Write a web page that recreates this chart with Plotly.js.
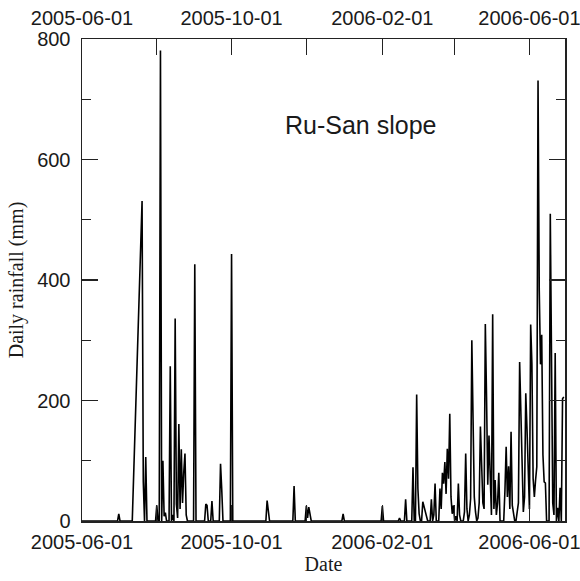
<!DOCTYPE html>
<html>
<head>
<meta charset="utf-8">
<script src="https://cdn.plot.ly/plotly-3.0.1.min.js"></script>
<style>html,body{margin:0;padding:0;background:#fff;}#chart{width:580px;height:581px;}</style>
</head>
<body>
<div id="chart"></div>
<script>
// Daily rainfall, Ru-San slope (mm)
const dates = [
  "2005-06-01","2005-06-30","2005-07-01","2005-07-02","2005-07-12","2005-07-20","2005-07-21","2005-07-22","2005-07-23","2005-07-24",
  "2005-07-31","2005-08-01","2005-08-02","2005-08-03","2005-08-04","2005-08-05","2005-08-06","2005-08-07","2005-08-08","2005-08-09",
  "2005-08-11","2005-08-12","2005-08-13","2005-08-14","2005-08-15","2005-08-16","2005-08-17","2005-08-18","2005-08-19","2005-08-20",
  "2005-08-21","2005-08-22","2005-08-23","2005-08-24","2005-08-25","2005-08-26","2005-08-31","2005-09-01","2005-09-02","2005-09-09",
  "2005-09-10","2005-09-11","2005-09-12","2005-09-14","2005-09-15","2005-09-16","2005-09-21","2005-09-22","2005-09-23","2005-09-24",
  "2005-09-30","2005-10-01","2005-10-02","2005-10-29","2005-10-30","2005-10-31","2005-11-01","2005-11-20","2005-11-21","2005-11-22",
  "2005-11-30","2005-12-01","2005-12-02","2005-12-03","2005-12-04","2005-12-05","2005-12-30","2005-12-31","2006-01-01","2006-01-31",
  "2006-02-01","2006-02-02","2006-02-14","2006-02-15","2006-02-16","2006-02-19","2006-02-20","2006-02-21","2006-02-25","2006-02-26",
  "2006-02-27","2006-02-28","2006-03-01","2006-03-02","2006-03-03","2006-03-04","2006-03-05","2006-03-06","2006-03-07","2006-03-08",
  "2006-03-09","2006-03-10","2006-03-12","2006-03-13","2006-03-14","2006-03-15","2006-03-16","2006-03-17","2006-03-19","2006-03-20",
  "2006-03-21","2006-03-22","2006-03-23","2006-03-24","2006-03-25","2006-03-26","2006-03-27","2006-03-28","2006-03-29","2006-03-30",
  "2006-03-31","2006-04-01","2006-04-02","2006-04-03","2006-04-04","2006-04-05","2006-04-06","2006-04-08","2006-04-09","2006-04-10",
  "2006-04-11","2006-04-12","2006-04-13","2006-04-14","2006-04-15","2006-04-16","2006-04-17","2006-04-18","2006-04-19","2006-04-20",
  "2006-04-21","2006-04-22","2006-04-23","2006-04-24","2006-04-25","2006-04-26","2006-04-27","2006-04-28","2006-04-29","2006-04-30",
  "2006-05-01","2006-05-02","2006-05-03","2006-05-04","2006-05-05","2006-05-06","2006-05-07","2006-05-08","2006-05-11","2006-05-12",
  "2006-05-13","2006-05-14","2006-05-15","2006-05-16","2006-05-17","2006-05-18","2006-05-19","2006-05-20","2006-05-21","2006-05-22",
  "2006-05-23","2006-05-24","2006-05-25","2006-05-26","2006-05-27","2006-05-28","2006-05-29","2006-05-30","2006-05-31","2006-06-01",
  "2006-06-02","2006-06-03","2006-06-04","2006-06-05","2006-06-06","2006-06-07","2006-06-08","2006-06-09","2006-06-10","2006-06-11",
  "2006-06-12","2006-06-13","2006-06-14","2006-06-15","2006-06-16","2006-06-17","2006-06-18","2006-06-19","2006-06-20","2006-06-21",
  "2006-06-22","2006-06-23","2006-06-24","2006-06-25","2006-06-26","2006-06-27","2006-06-28","2006-06-29"
];
const rainfall = [
  0,0,12,0,0,531,65,0,106,0,
  0,26,0,0,781,0,100,8,14,0,
  0,257,0,10,0,336,28,5,161,20,
  119,30,81,112,10,0,0,426,0,0,
  28,26,0,0,33,0,0,95,52,0,
  0,443,0,0,34,13,0,0,58,0,
  0,25,5,23,13,0,0,12,0,0,
  25,0,0,5,0,0,36,0,0,89,
  0,0,210,54,12,0,0,32,24,15,
  7,0,0,36,0,10,62,0,0,54,
  20,80,62,98,45,120,70,178,40,12,
  26,0,8,0,62,10,0,0,15,112,
  20,0,10,37,300,123,40,15,0,5,
  30,157,95,30,20,327,206,60,142,48,
  10,343,20,68,10,30,80,0,0,50,
  123,40,91,20,148,26,10,0,0,20,
  30,264,179,59,15,40,212,153,79,20,
  326,261,70,40,68,90,731,383,260,309,
  110,65,63,0,0,0,510,255,30,10,
  279,0,22,0,55,0,203,206
];
const xRange = ["2005-06-01", "2006-06-30"];
const yTicks = [0, 200, 400, 600, 800];
const panelLabel = "Ru-San slope";

const tickFont = {family: "Liberation Sans, Arial, sans-serif", size: 20, color: "#1a1a1a"};
const titleFont = {family: "Liberation Serif, Times New Roman, serif", size: 20, color: "#1a1a1a"};

const line = {
  x: dates, y: rainfall, type: "scatter", mode: "lines",
  line: {color: "#000", width: 1.6}, hoverinfo: "x+y", showlegend: false
};
const topAxisCarrier = {
  x: dates, y: rainfall, type: "scatter", mode: "lines", xaxis: "x2",
  line: {color: "rgba(0,0,0,0)", width: 0}, hoverinfo: "skip", showlegend: false
};

const layout = {
  width: 580, height: 581,
  margin: {l: 82, r: 15, t: 39, b: 60},
  paper_bgcolor: "#fff", plot_bgcolor: "#fff",
  showlegend: false,
  xaxis: {
    type: "date", range: xRange,
    tick0: "2005-06-01", dtick: "M4", tickformat: "%Y-%m-%d",
    ticks: "inside", ticklen: 16, tickwidth: 1.4, tickcolor: "#222",
    minor: {dtick: "M2", tick0: "2005-06-01", ticks: "inside", ticklen: 16, tickwidth: 1.4, tickcolor: "#222", showgrid: false},
    showline: true, linecolor: "#222", linewidth: 1.5, mirror: "ticks",
    showgrid: false, zeroline: false, ticklabeloverflow: "allow",
    tickfont: tickFont, ticklabelstandoff: 2,
    title: {text: "Date", font: titleFont, standoff: 5}
  },
  xaxis2: {
    type: "date", overlaying: "x", side: "top", matches: "x", range: xRange,
    tick0: "2005-06-01", dtick: "M4", tickformat: "%Y-%m-%d",
    ticks: "", showline: false, showgrid: false, zeroline: false, ticklabeloverflow: "allow",
    tickfont: tickFont, ticklabelstandoff: 9
  },
  yaxis: {
    range: [0, 800], tickvals: yTicks,
    ticks: "inside", ticklen: 16, tickwidth: 1.4, tickcolor: "#222",
    minor: {dtick: 100, ticks: "inside", ticklen: 9, tickwidth: 1.4, tickcolor: "#222", showgrid: false},
    showline: true, linecolor: "#222", linewidth: 1.5, mirror: "ticks",
    showgrid: false, zeroline: false,
    tickfont: tickFont, ticklabelstandoff: 6,
    title: {text: "Daily rainfall (mm)", font: titleFont, standoff: 8}
  },
  annotations: [{
    text: panelLabel, xref: "paper", yref: "paper", x: 0.576, y: 0.822,
    xanchor: "center", yanchor: "middle", showarrow: false,
    font: {family: "Liberation Sans, Arial, sans-serif", size: 25, color: "#1a1a1a"}
  }]
};

Plotly.newPlot("chart", [line, topAxisCarrier], layout, {staticPlot: true, displayModeBar: false});
</script>
</body>
</html>
